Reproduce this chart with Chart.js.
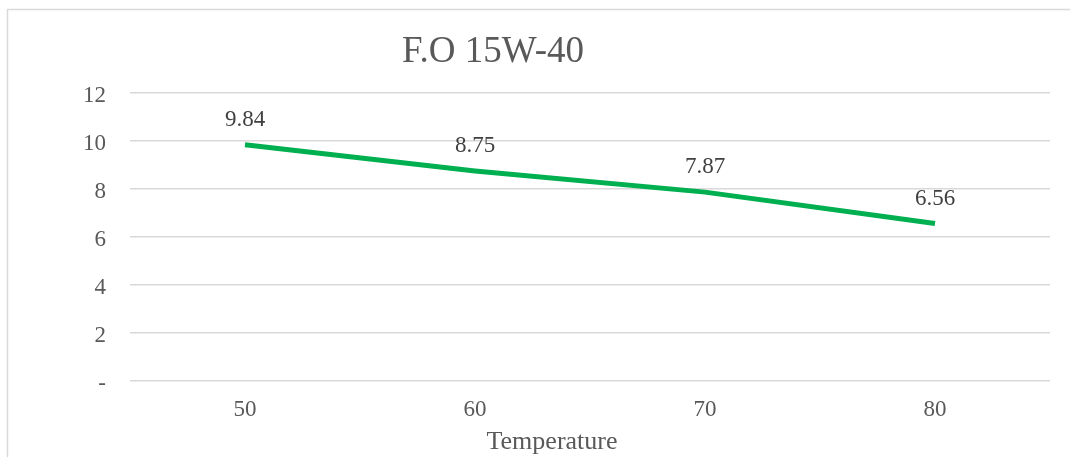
<!DOCTYPE html>
<html>
<head>
<meta charset="utf-8">
<script src="https://cdn.jsdelivr.net/npm/chart.js@4"></script>
<style>
  html, body { margin: 0; padding: 0; background: #fff; }
  #wrap { width: 1070px; height: 457px; position: relative; }
</style>
</head>
<body>
<div id="wrap"><canvas id="chart"></canvas></div>
<script>
const temperatures = ['50', '60', '70', '80'];
const viscosity = [9.84, 8.75, 7.87, 6.56];
const yTicks = [0, 2, 4, 6, 8, 10, 12];
const chartTitle = 'F.O 15W-40';
const xTitle = 'Temperature';

const textGrey = '#595959';
const serif = '"Liberation Serif", "Times New Roman", serif';

// frame, titles and point labels drawn on the canvas
const extras = {
  id: 'extras',
  beforeDraw(chart) {
    const ctx = chart.ctx;
    ctx.save();
    ctx.fillStyle = '#fff';
    ctx.fillRect(0, 0, chart.width, chart.height);
    ctx.strokeStyle = '#d9d9d9';
    ctx.lineWidth = 1.5;
    ctx.beginPath();
    ctx.moveTo(7.5, chart.height);
    ctx.lineTo(7.5, 9.5);
    ctx.lineTo(chart.width, 9.5);
    ctx.stroke();
    ctx.restore();
  },
  afterDraw(chart) {
    const ctx = chart.ctx;
    ctx.save();
    ctx.textAlign = 'center';
    ctx.textBaseline = 'middle';
    ctx.fillStyle = textGrey;
    ctx.font = '37px ' + serif;
    ctx.fillText(chartTitle, 493, 52);
    ctx.font = '26px ' + serif;
    ctx.fillText(xTitle, 552, 442);

    ctx.fillStyle = '#404040';
    ctx.font = '23px ' + serif;
    const meta = chart.getDatasetMeta(0);
    meta.data.forEach((pt, i) => {
      ctx.fillText(viscosity[i].toFixed(2), pt.x, pt.y - 25);
    });
    ctx.restore();
  }
};

new Chart(document.getElementById('chart'), {
  type: 'line',
  data: {
    labels: temperatures,
    datasets: [{
      data: viscosity,
      borderColor: '#00B050',
      backgroundColor: '#00B050',
      borderWidth: 5,
      pointRadius: 0,
      tension: 0,
      borderCapStyle: 'butt'
    }]
  },
  options: {
    responsive: true,
    maintainAspectRatio: false,
    animation: false,
    layout: { padding: { top: 93, right: 20, bottom: 0, left: 0 } },
    plugins: {
      legend: { display: false },
      tooltip: { enabled: false }
    },
    scales: {
      x: {
        offset: true,
        grid: { display: false, drawTicks: false },
        border: { display: false },
        ticks: { color: textGrey, font: { family: serif, size: 23 }, padding: 15, maxRotation: 0 },
        afterFit(scale) { scale.height = 76; }
      },
      y: {
        min: 0,
        max: 12,
        afterBuildTicks(scale) { scale.ticks = yTicks.map(v => ({ value: v })); },
        grid: { color: '#d9d9d9', lineWidth: 1.5, drawTicks: false },
        border: { display: false },
        ticks: {
          color: textGrey,
          font: { family: serif, size: 23 },
          padding: 24,
          labelOffset: 3,
          callback: v => (v === 0 ? '-' : v)
        },
        afterFit(scale) { scale.width = 130; }
      }
    }
  },
  plugins: [extras]
});
</script>
</body>
</html>
